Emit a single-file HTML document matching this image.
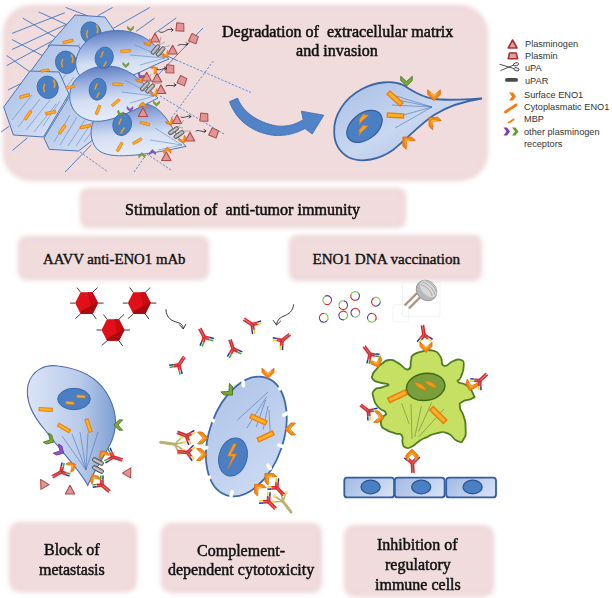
<!DOCTYPE html>
<html><head><meta charset="utf-8">
<style>
html,body{margin:0;padding:0;background:#fff;}
body{width:612px;height:598px;position:relative;overflow:hidden;}
.box{position:absolute;background:#f1dcdd;border-radius:18px;filter:blur(2.5px);box-shadow:inset 0 0 0 5px rgba(205,150,160,0.08);}
.t{position:absolute;font-family:"Liberation Serif",serif;color:#111;white-space:pre;font-size:16px;line-height:20px;-webkit-text-stroke:0.4px #111;}
.lg{position:absolute;font-family:"Liberation Sans",sans-serif;color:#333;font-size:9.2px;white-space:pre;line-height:11px;}
svg{position:absolute;left:0;top:0;}
.big{font-size:17.5px;transform:scaleX(0.919);transform-origin:0 0;-webkit-text-stroke:0.55px #111;}
.mid{font-size:16.5px;transform:scaleX(0.97);transform-origin:0 0;-webkit-text-stroke:0.5px #111;}
</style></head><body>
<div class="box" style="left:3px;top:5px;width:485px;height:176px;border-radius:28px"></div>
<div class="box" style="left:80px;top:188px;width:326px;height:40px;border-radius:8px"></div>
<div class="box" style="left:18px;top:236px;width:191px;height:44px;border-radius:8px"></div>
<div class="box" style="left:289px;top:235px;width:193px;height:46px;border-radius:8px"></div>
<div class="box" style="left:8.5px;top:522px;width:128px;height:70px;border-radius:10px"></div>
<div class="box" style="left:160.5px;top:522.5px;width:161.5px;height:70.5px;border-radius:10px"></div>
<div class="box" style="left:344px;top:525px;width:150px;height:72px;border-radius:10px"></div>
<svg width="612" height="598" viewBox="0 0 612 598"><defs>
<linearGradient id="gRound" x1="0.2" y1="0" x2="0.35" y2="1">
 <stop offset="0" stop-color="#5878bd"/><stop offset="0.3" stop-color="#98afdf"/><stop offset="0.62" stop-color="#d3def3"/><stop offset="1" stop-color="#e6edf9"/>
</linearGradient>
<linearGradient id="gHex" x1="0" y1="0" x2="1" y2="1">
 <stop offset="0" stop-color="#a9bfe6"/><stop offset="1" stop-color="#dbe5f6"/>
</linearGradient>
<linearGradient id="gCellL" x1="0" y1="0" x2="1" y2="0">
 <stop offset="0" stop-color="#dae4f5"/><stop offset="0.6" stop-color="#b9cbeb"/><stop offset="1" stop-color="#7f9fd2"/>
</linearGradient>
<linearGradient id="gMig" x1="0" y1="0" x2="1" y2="1">
 <stop offset="0" stop-color="#a7bee6"/><stop offset="0.5" stop-color="#c9d7f0"/><stop offset="1" stop-color="#a8bfe6"/>
</linearGradient>
<linearGradient id="gCdc" x1="0" y1="0" x2="1" y2="1">
 <stop offset="0" stop-color="#aec3e8"/><stop offset="1" stop-color="#cfdcf3"/>
</linearGradient>
<linearGradient id="gRow" x1="0" y1="0.3" x2="1" y2="0.7">
 <stop offset="0" stop-color="#a6bce5"/><stop offset="1" stop-color="#d5e0f4"/>
</linearGradient>
<g id="bar"><rect x="-6" y="-1.5" width="12" height="3" fill="#fbb424" stroke="#ef7c14" stroke-width="1"/></g>
<g id="sbar"><rect x="-4" y="-1.2" width="8" height="2.4" fill="#fbb424" stroke="#ef7c14" stroke-width="0.8"/></g>
<g id="chev"><path d="M-5.5,-6 L-1,-6 L5,0 L-1,6 L-5.5,6 L0,0 Z" fill="#f28a12" stroke="#e06a10" stroke-width="0.8" stroke-linejoin="round"/><path d="M-2.8,-3.2 L-1.6,-3.2 L1.6,0 L-1.6,3.2 L-2.8,3.2 L0,0Z" fill="#f9b83a"/></g>
<g id="chevG"><path d="M-5,-5.5 L-1,-5.5 L4.5,0 L-1,5.5 L-5,5.5 L0,0 Z" fill="#78a83a" stroke="#4a7422" stroke-width="0.8" stroke-linejoin="round"/></g>
<g id="chevP"><path d="M-5,-5.5 L-1,-5.5 L4.5,0 L-1,5.5 L-5,5.5 L0,0 Z" fill="#8e52c6" stroke="#6a30a0" stroke-width="0.8" stroke-linejoin="round"/></g>
<g id="tri"><path d="M0,-5 L5,4.3 L-5,4.3 Z" fill="#de9696" stroke="#b04848" stroke-width="1.1" stroke-linejoin="round"/></g>
<g id="pent"><path d="M-4,-4 L3,-4.5 L4.5,3 L-3.5,4 Z" fill="#de9696" stroke="#b04848" stroke-width="1" stroke-linejoin="round"/></g>
<g id="upar"><rect x="-2" y="-6" width="4" height="12" rx="2" fill="#9a9a9a" stroke="#4a4a4a" stroke-width="0.8"/><rect x="-0.8" y="-5" width="1.2" height="10" rx="0.6" fill="#d0d0d0"/></g>
<g id="ab" fill="none" stroke-linecap="butt">
 <path d="M-1.1,0 L-1.1,-10 M1.1,0 L1.1,-10" stroke="#e5262b" stroke-width="1.5"/>
 <path d="M0,-9 L0,0" stroke="#5a1010" stroke-width="0.5"/>
 <path d="M-0.74,-0.82 L-4.82,2.86" stroke="#e5262b" stroke-width="1.5"/>
 <path d="M-4.82,2.86 L-7.80,5.54" stroke="#2432a8" stroke-width="1.5"/>
 <path d="M0.74,0.82 L-3.35,4.50" stroke="#e5262b" stroke-width="1.5"/>
 <path d="M-3.35,4.50 L-6.32,7.17" stroke="#3aaa35" stroke-width="1.5"/>
 <path d="M0,0 L-3.72,3.35" stroke="#5a1010" stroke-width="0.5"/>
 <path d="M0.74,-0.82 L4.82,2.86" stroke="#e5262b" stroke-width="1.5"/>
 <path d="M4.82,2.86 L7.80,5.54" stroke="#2432a8" stroke-width="1.5"/>
 <path d="M-0.74,0.82 L3.35,4.50" stroke="#e5262b" stroke-width="1.5"/>
 <path d="M3.35,4.50 L6.32,7.17" stroke="#3aaa35" stroke-width="1.5"/>
 <path d="M0,0 L3.72,3.35" stroke="#5a1010" stroke-width="0.5"/>
</g>
<g id="aby" fill="none" stroke-linecap="butt">
 <path d="M-1.1,0 L-1.1,-10 M1.1,0 L1.1,-10" stroke="#e5262b" stroke-width="1.5"/>
 <path d="M0,-9 L0,0" stroke="#5a1010" stroke-width="0.5"/>
 <path d="M-0.74,-0.82 L-4.82,2.86" stroke="#e5262b" stroke-width="1.5"/>
 <path d="M-4.82,2.86 L-7.80,5.54" stroke="#2432a8" stroke-width="1.5"/>
 <path d="M0.74,0.82 L-3.35,4.50" stroke="#e5262b" stroke-width="1.5"/>
 <path d="M-3.35,4.50 L-6.32,7.17" stroke="#f2d21a" stroke-width="1.5"/>
 <path d="M0,0 L-3.72,3.35" stroke="#5a1010" stroke-width="0.5"/>
 <path d="M0.74,-0.82 L4.82,2.86" stroke="#e5262b" stroke-width="1.5"/>
 <path d="M4.82,2.86 L7.80,5.54" stroke="#2432a8" stroke-width="1.5"/>
 <path d="M-0.74,0.82 L3.35,4.50" stroke="#e5262b" stroke-width="1.5"/>
 <path d="M3.35,4.50 L6.32,7.17" stroke="#f2d21a" stroke-width="1.5"/>
 <path d="M0,0 L3.72,3.35" stroke="#5a1010" stroke-width="0.5"/>
</g>
<g id="virus">
 <path d="M-16.5,0 L-11.5,0 M11.5,0 L17,0 M-9.6,-15.5 L-6,-10.8 M10.9,-15.5 L6,-10.8 M-11.3,15.5 L-6,10.8 M9.7,16 L6,10.8" stroke="#3a3a3a" stroke-width="1"/>
 <path d="M-11.5,0 L-6,-10.8 L6,-10.8 L11.5,0 L6,10.8 L-6,10.8 Z" fill="#e0101a"/>
 <path d="M1,-10.8 L6,-10.8 L11.5,0 L4,3 Z" fill="#c80b12"/>
 <path d="M-5.5,8 L11.2,-0.8 L11.5,0 L6,10.8 L-6,10.8 Z" fill="#a80a0e"/>
</g>
<g id="c1q" fill="none" stroke-linecap="round">
 <path d="M0,0 L14,2" stroke="#b8b070" stroke-width="3"/>
 <path d="M14,2 L21,-5 M14,2 L24,0 M14,2 L18,11 M14,2 L23,8" stroke="#b8b070" stroke-width="1.6"/>
 <circle cx="21" cy="-5" r="1.8" fill="#f0e070" stroke="none"/><circle cx="24" cy="0" r="1.8" fill="#f0e070" stroke="none"/>
 <circle cx="18" cy="11" r="1.8" fill="#f0e070" stroke="none"/><circle cx="23" cy="8" r="1.8" fill="#f0e070" stroke="none"/>
</g>
</defs>

<g stroke="#4f81c6" stroke-width="1" fill="none">
<path d="M12,33.4 L64.9,12.7"/>
<path d="M12,49.5 L78,19"/>
<path d="M6.7,65.6 L57.5,38.1"/>
<path d="M8,90 L32,78"/>
<path d="M1.1,132 L9.2,126.3"/>
<path d="M12.6,150.3 L27.5,137.8"/>
<path d="M65.2,172 L91.5,144.6"/>
<path d="M22.7,18.1 L60,40"/>
<path d="M38.8,12 L72,27"/>
<path d="M65.6,7.4 L88,16"/>
<path d="M12,39.5 L45,57"/>
<path d="M6.7,55.5 L30,72"/>
<path d="M97.8,15.7 L112.5,7.5"/>
<path d="M109.6,30.4 L149.8,7.5"/>
<path d="M136.1,31.4 L154.7,18"/>
<path d="M154.7,33.3 L176.3,18"/>
<path d="M156,77 L203,28"/>

</g>
<!-- dashed lines -->
<g stroke="#4f81c6" stroke-width="0.9" stroke-dasharray="2.2,1.6" fill="none">
<path d="M176,60 L251,92.5"/>
<path d="M171.5,118 L214,60"/>
<path d="M160,96 L224,134"/>
<path d="M80,152 L108,172"/>
<path d="M134,172 L146,155"/>
<path d="M147,154 L171,170"/>
</g>
<!-- solid ray lines near top right -->
<g stroke="#4f81c6" stroke-width="1" fill="none">

<path d="M166,55.5 L176,60"/>
</g>
<!-- hexagons -->
<clipPath id="hcA"><path d="M75,15 L105,17 L122,42 L100,75 L62,72 L48,46 Z"/></clipPath>
<clipPath id="hcB"><path d="M50,45 L78.6,46 L92,70 L72,100 L42,100 L28,75 Z"/></clipPath>
<clipPath id="hcD"><path d="M44,138 L69,97 L100,98 L112,125 L78.6,151 L49.3,149.4 Z"/></clipPath>
<clipPath id="hcC"><path d="M3.7,107 L30,71 L59,72 L69,94 L43.5,137 L13.4,135 Z"/></clipPath>
<path d="M75,15 L105,17 L122,42 L100,75 L62,72 L48,46 Z" fill="url(#gHex)" stroke="#4a76b8" stroke-width="1"/>
<path d="M62,66 L80,44 M70,70 L90,47 M80,72 L100,50" clip-path="url(#hcA)" stroke="#5f86c4" stroke-width="0.6" fill="none"/>
<path d="M50,45 L78.6,46 L92,70 L72,100 L42,100 L28,75 Z" fill="url(#gHex)" stroke="#4a76b8" stroke-width="1"/>
<path d="M50,96 L66,74 M58,98 L74,77 M66,99 L82,80 M74,97 L88,80" clip-path="url(#hcB)" stroke="#5f86c4" stroke-width="0.6" fill="none"/>
<path d="M44,138 L69,97 L100,98 L112,125 L78.6,151 L49.3,149.4 Z" fill="url(#gHex)" stroke="#4a76b8" stroke-width="1"/>
<path d="M54,142 L70,115 M60,145 L77,117 M68,146 L85,120 M76,146 L92,122 M84,142 L98,124" clip-path="url(#hcD)" stroke="#5f86c4" stroke-width="0.6" fill="none"/>
<path d="M3.7,107 L30,71 L59,72 L69,94 L43.5,137 L13.4,135 Z" fill="url(#gHex)" stroke="#4a76b8" stroke-width="1"/>
<path d="M12,120 L32,95 M18,127 L40,99 M26,130 L50,100 M34,132 L56,104 M43,126 L60,101" clip-path="url(#hcC)" stroke="#5f86c4" stroke-width="0.6" fill="none"/>
<!-- hex nuclei -->
<g fill="#4a7fc3" stroke="#3a67a8" stroke-width="0.8">
<ellipse cx="91" cy="33" rx="10" ry="11.3" transform="rotate(-20 91 33)"/>
<ellipse cx="66" cy="62.3" rx="10.5" ry="11.3" transform="rotate(-20 66 62.3)"/>
<ellipse cx="47.7" cy="87.3" rx="10.5" ry="11.3" transform="rotate(-20 47.7 87.3)"/>
</g>
<!-- round cells -->
<g stroke="#4a74b2" stroke-width="1" fill="url(#gRound)">
<path d="M169,59 C158,50 150,35 125,31 C100,28 80,40 76,60 C74,75 85,85 105,83 C130,80 150,66 169,59 Z"/>
<path d="M186,146.4 C176,138 170,118 156,108 C140,98 115,102 100,112 C88,122 88,145 101,152 C115,160 150,154 186,146.4 Z"/>
<path d="M158,98 C148,90 140,75 120,68 C100,62 80,70 72,85 C66,100 72,115 88,120 C105,125 125,115 158,98 Z"/>
</g>
<!-- cytoskeleton rays -->
<g stroke="#5f86c4" stroke-width="0.6" fill="none">
<path d="M165,58 L135,45 M165,58 L130,55 M165,58 L140,65"/>
<path d="M154,96 L125,80 M154,96 L122,92 M154,96 L130,103"/>
<path d="M182,145 L155,128 M182,145 L150,140 M182,145 L158,150"/>
</g>
<g fill="#4a7fc3" stroke="#3a67a8" stroke-width="0.8">
<ellipse cx="104.2" cy="57.7" rx="9" ry="10.8" transform="rotate(15 104.2 57.7)"/>
<ellipse cx="97.7" cy="89.2" rx="8.5" ry="11" transform="rotate(10 97.7 89.2)"/>
<ellipse cx="122.2" cy="124.4" rx="9.3" ry="11.3" transform="rotate(15 122.2 124.4)"/>
</g>
<!-- bars -->
<use href="#bar" transform="translate(68,41.5) rotate(-15) scale(0.85)"/>
<use href="#bar" transform="translate(70.5,87) rotate(-12) scale(0.7)"/>
<use href="#bar" transform="translate(24.6,96) rotate(-15) scale(0.85)"/>
<use href="#bar" transform="translate(28,115.3) rotate(-55) scale(0.85)"/>
<use href="#bar" transform="translate(50.7,112.7) rotate(-12) scale(0.85)"/>
<use href="#bar" transform="translate(62.2,129.3) rotate(-55) scale(0.85)"/>
<use href="#bar" transform="translate(85.3,126.6) rotate(-12) scale(0.85)"/>
<use href="#bar" transform="translate(45,70.5) rotate(-10) scale(0.7)"/>
<use href="#bar" transform="translate(125.5,51) rotate(-3) scale(0.8)"/>
<use href="#bar" transform="translate(117.6,84.3) rotate(3) scale(0.8)"/>
<use href="#bar" transform="translate(115.7,102.7) rotate(-40) scale(0.8)"/>
<use href="#bar" transform="translate(98,109.8) rotate(-68) scale(0.8)"/>
<use href="#bar" transform="translate(145,123.5) rotate(15) scale(0.8)"/>
<use href="#bar" transform="translate(137.3,141.2) rotate(-30) scale(0.8)"/>
<use href="#bar" transform="translate(119.6,147) rotate(-60) scale(0.8)"/>
<!-- nucleus marks -->
<g stroke="#f39a1a" stroke-width="1.6" stroke-linecap="round">
<path d="M87.5,30.5 Q85.8,34 87.3,37.5 M96.5,25.5 Q98.8,29 97.3,32.8" fill="none"/>
<path d="M62.5,59.5 Q60.8,63 62.3,66.5 M71.5,55 Q73.8,58.5 72.3,62.3" fill="none"/>
<path d="M44.5,84.5 Q42.8,88 44.3,91.5 M53.5,80 Q55.8,83.5 54.3,87.3" fill="none"/>
<path d="M103,52 L101,57 M106,62 L104,66"/>
<path d="M97,84 L95,89 M99,93 L97,97"/>
<path d="M121,119 L119,124 M124,128 L121,133"/>
</g>
<!-- tip decorations -->
<use href="#tri" transform="translate(155,38) scale(0.95)"/>
<use href="#tri" transform="translate(172.6,50) scale(0.95)"/>
<use href="#tri" transform="translate(146.7,77) scale(0.95)"/>
<use href="#tri" transform="translate(157,78) scale(0.95)"/>
<use href="#tri" transform="translate(161,89.5) scale(0.95)"/>
<use href="#tri" transform="translate(143,112.5) scale(0.95)"/>
<use href="#tri" transform="translate(177,119.5) scale(0.95)"/>
<use href="#tri" transform="translate(190,137) scale(0.95)"/>
<use href="#tri" transform="translate(166.3,156.5) scale(0.95)"/>
<use href="#pent" transform="translate(180,27.5) rotate(10)"/>
<use href="#pent" transform="translate(193.5,39) rotate(30)"/>
<use href="#pent" transform="translate(170,69.3) rotate(10)"/>
<use href="#pent" transform="translate(182,81) rotate(30)"/>
<use href="#pent" transform="translate(204,117.6) rotate(10)"/>
<use href="#pent" transform="translate(213.7,133.3) rotate(30)"/>
<use href="#upar" transform="translate(155.5,49.5) rotate(40) scale(0.95)"/>
<use href="#upar" transform="translate(160.6,51.5) rotate(40) scale(0.95)"/>
<use href="#upar" transform="translate(144.8,86.2) rotate(43) scale(0.95)"/>
<use href="#upar" transform="translate(150.2,88.5) rotate(43) scale(0.95)"/>
<use href="#upar" transform="translate(173.5,130.7) rotate(56) scale(0.95)"/>
<use href="#upar" transform="translate(179,134.5) rotate(56) scale(0.95)"/>
<g stroke="#9a9a9a" stroke-width="0.8" fill="none">
<path d="M159,45 L161,37 M159,45 L165,42 M164,47 L170,45.5"/>
<path d="M148,82 L151,74 M148,82 L154,80 M154,84 L161,83"/>
<path d="M178,127 L184,120 M178,127 L183,128 M184,131 L191,131"/>
</g>
<use href="#chev" transform="translate(148.4,43.4) rotate(60) scale(0.62)"/>
<use href="#chev" transform="translate(166,55) rotate(60) scale(0.62)"/>
<use href="#chev" transform="translate(140,80) rotate(60) scale(0.62)"/>
<use href="#chev" transform="translate(155,69.3) rotate(-30) scale(0.62)"/>
<use href="#chev" transform="translate(155,93.6) rotate(60) scale(0.62)"/>
<use href="#chev" transform="translate(142.7,104.8) rotate(-90) scale(0.62)"/>
<use href="#chev" transform="translate(170.2,122.5) rotate(60) scale(0.62)"/>
<use href="#chev" transform="translate(183,140) rotate(60) scale(0.62)"/>
<use href="#chev" transform="translate(167.3,150) rotate(-90) scale(0.62)"/>
<use href="#chevG" transform="translate(130.5,29) rotate(90) scale(0.55)"/>
<use href="#chevG" transform="translate(125.8,65.2) rotate(90) scale(0.55)"/>
<use href="#chevG" transform="translate(156.5,103.8) rotate(90) scale(0.55)"/>
<use href="#chevG" transform="translate(120.2,113.6) rotate(110) scale(0.55)"/>
<use href="#chevG" transform="translate(141.8,155) rotate(-90) scale(0.55)"/>
<use href="#chevP" transform="translate(130,109.2) rotate(90) scale(0.55)"/>
<use href="#chevP" transform="translate(152.5,152) rotate(-90) scale(0.55)"/>
<use href="#chevP" transform="translate(140.5,76) rotate(120) scale(0.55)"/>
<g stroke="#222" stroke-width="0.8" fill="none" stroke-linecap="round">
<path d="M159,31.5 C162,34 165,31 168,29.5 C170,29 172,30 173,30 M171,28 L173,30 L171.5,31.5"/>
<path d="M178,45.5 C181,43 184,46 188,44 M186,42.5 L188,44 L186,45.5"/>
<path d="M157,69.5 C160,71 163,68 166,68.5 M164.5,67 L166.5,68.5 L164.5,70"/>
<path d="M166,86 C169,84 172,87 176,85 M174,83.5 L176,85 L174,86.5"/>
<path d="M181,117 C184,119 187,115 191,116.5 M189,115 L191,116.5 L189,118"/>
<path d="M196,131 C199,129 202,133 206,131 M204,129.5 L206,131 L204,132.5"/>
</g>
<!-- big arrow -->
<path d="M229.5,101.7 L237.6,98.1 C242,110 255,122 277,126 C288,127 296,124 303.2,119.7 L301.4,111.2 L323.8,115.2 L312.2,134 L305,128.6 C295,134 285,136 275,135.5 C252,133 236,120 229.5,101.7 Z" fill="#5083c8" stroke="#3f6cae" stroke-width="0.8"/>
<!-- migrating cell -->
<path d="M334.2,133 C333,115 345,98 362,89 C375,82 392,80 403,85 C412,90 418,96 434,99 C450,101 468,99 482,98.5 C465,101 448,106 434,115 C420,124 408,138 393,150 C380,159 362,164 348,157 C338,151 334.5,142 334.2,133 Z" fill="url(#gMig)" stroke="#3a66a6" stroke-width="1.8"/>
<g stroke="#4a74b4" stroke-width="0.6" fill="none">
<path d="M432,107 L396,96 M432,107 L392,105 M432,107 L393,118 M432,107 L395,128 M432,107 L398,100"/>
</g>
<ellipse cx="364.5" cy="126.4" rx="20" ry="13" transform="rotate(-38 364.5 126.4)" fill="#4a7fc3" stroke="#2f5c98" stroke-width="1.2"/>
<use href="#bar" transform="translate(395,98.5) rotate(42) scale(1.45)"/>
<use href="#bar" transform="translate(395.5,115.5) rotate(3) scale(1.35)"/>
<path d="M363,114.6 L368.4,115.3 L361,122 L359.6,124.7 L359.4,119.5 Z" fill="#f7a21b" stroke="#e8761c" stroke-width="0.8" stroke-linejoin="round"/>
<path d="M363,125.3 L368,126.2 L361,132.6 L359.4,135.4 L359.1,130.3 Z" fill="#f7a21b" stroke="#e8761c" stroke-width="0.8" stroke-linejoin="round"/>
<use href="#chev" transform="translate(434,95.5) rotate(90) scale(1.05)"/>
<use href="#chev" transform="translate(432.7,121.2) rotate(-137) scale(1.05)"/>
<use href="#chev" transform="translate(406.6,140.8) rotate(-134) scale(1.05)"/>
<use href="#chevG" transform="translate(406.5,81.5) rotate(90) scale(1.05)"/>
<!-- viruses -->
<use href="#virus" transform="translate(86.6,303.1)"/>
<use href="#virus" transform="translate(139.3,303.1)"/>
<use href="#virus" transform="translate(113,330)"/>
<!-- small curved arrows -->
<g stroke="#222" stroke-width="0.9" fill="none" stroke-linecap="round" stroke-linejoin="round">
<path d="M166,309.6 C166,318 172,321 178,322.5 C181,323.5 183,325 183.3,328.5"/>
<path d="M179.5,324.8 L183.3,329 L185.8,324.2"/>
<path d="M293.6,304.7 C293,311 289,314 284,316 C280,317.5 277,320 276.5,324.5"/>
<path d="M273.3,320.5 L276.5,325 L280.5,321.2"/>
</g>
<!-- antibodies free -->
<!-- block of metastasis cell -->
<path d="M87.8,485.4 C80,470 60,450 45,430 C32,415 25,400 28,385 C32,370 45,364 58,366 C75,368 95,375 106,392 C116,408 118,425 112,440 C106,455 95,468 87.8,485.4 Z" fill="url(#gCellL)" stroke="#4a70a8" stroke-width="1.1"/>
<g stroke="#4a74b4" stroke-width="0.6" fill="none">
<path d="M86,470 L62,436 M86,470 L72,434 M86,470 L80,432 M86,470 L88,433 M86,470 L98,432"/>
</g>
<ellipse cx="74" cy="399" rx="16.3" ry="10.7" fill="#4a7fc3" stroke="#3a67a8" stroke-width="1"/>
<use href="#bar" transform="translate(45.7,409.5) rotate(3) scale(1.1)"/>
<use href="#bar" transform="translate(64,428) rotate(30) scale(1.1)"/>
<use href="#bar" transform="translate(88.6,425.6) rotate(72) scale(1.1)"/>
<use href="#sbar" transform="translate(70,403) rotate(5)"/>
<use href="#sbar" transform="translate(81,396.5) rotate(5)"/>
<use href="#chevG" transform="translate(118,425) rotate(180) scale(0.95)"/>
<use href="#chevG" transform="translate(50,440) rotate(30) scale(0.95)"/>
<use href="#chevP" transform="translate(60,451) rotate(30) scale(0.95)"/>
<use href="#chev" transform="translate(103,454) rotate(-120) scale(0.8)"/>
<use href="#chev" transform="translate(72,466) rotate(-30) scale(0.8)"/>
<use href="#chev" transform="translate(94,478) rotate(-120) scale(0.8)"/>
<use href="#upar" transform="translate(98,461.5) rotate(-62) scale(1)"/>
<use href="#upar" transform="translate(98,469.5) rotate(-62) scale(1)"/>
<use href="#tri" transform="translate(43,483.5) rotate(-30) scale(0.95)"/>
<use href="#tri" transform="translate(70,490) scale(0.95)"/>
<use href="#tri" transform="translate(128.5,472) rotate(30) scale(0.95)"/>
<!-- CDC cell -->
<ellipse cx="246.3" cy="436.5" rx="37" ry="62" transform="rotate(19 246.3 436.5)" fill="url(#gCdc)" stroke="#3f6aa8" stroke-width="1.8"/>
<g fill="#fff">
<rect x="-3.8" y="-1.9" width="7.6" height="3.8" rx="1.9" transform="translate(243.3,383.7) rotate(-95)"/>
<rect x="-3.8" y="-1.9" width="7.6" height="3.8" rx="1.9" transform="translate(280.8,387.2) rotate(-56)"/>
<rect x="-3.8" y="-1.9" width="7.6" height="3.8" rx="1.9" transform="translate(285.5,414.2) rotate(-30)"/>
<rect x="-3.8" y="-1.9" width="7.6" height="3.8" rx="1.9" transform="translate(280.8,445.8) rotate(16)"/>
<rect x="-3.8" y="-1.9" width="7.6" height="3.8" rx="1.9" transform="translate(269.1,466.9) rotate(55)"/>
<rect x="-3.8" y="-1.9" width="7.6" height="3.8" rx="1.9" transform="translate(231.6,493.8) rotate(106)"/>
<rect x="-3.8" y="-1.9" width="7.6" height="3.8" rx="1.9" transform="translate(208.2,478.6) rotate(133)"/>
<rect x="-3.8" y="-1.9" width="7.6" height="3.8" rx="1.9" transform="translate(204.7,448.1) rotate(165)"/>
<rect x="-3.8" y="-1.9" width="7.6" height="3.8" rx="1.9" transform="translate(211.7,420) rotate(-156)"/>
</g>
<g stroke="#4a74b4" stroke-width="0.6" fill="none">
<path d="M237.5,420 L268,392 M246.8,428.2 L266.7,396.6 M256.2,427 L265.6,400 M263.2,429.4 L268,406 M270.3,433 L269,410"/>
</g>
<ellipse cx="233" cy="457" rx="14" ry="19.4" transform="rotate(15 233 457)" fill="#4a7fc3" stroke="#3a67a8" stroke-width="1"/>
<path d="M233.5,444 L227.5,456 L233,456 L228,468.5 L236.5,454 L231,454 L236.5,444 Z" fill="#f7a21b" stroke="#e8761c" stroke-width="0.8"/>
<use href="#bar" transform="translate(258.5,419.5) rotate(24) scale(1.4)"/>
<use href="#bar" transform="translate(265.6,436.4) rotate(-25) scale(1.4)"/>
<use href="#chev" transform="translate(268,373.5) rotate(90) scale(1)"/>
<use href="#chev" transform="translate(290,429) rotate(180) scale(1)"/>
<use href="#chev" transform="translate(203,438) scale(1)"/>
<use href="#chev" transform="translate(202,454.5) scale(1)"/>
<use href="#chev" transform="translate(268.5,477) rotate(-135) scale(1)"/>
<use href="#chev" transform="translate(258,488) rotate(-135) scale(1)"/>
<use href="#chevG" transform="translate(229,391.5) rotate(45) scale(1.1)"/>
<use href="#c1q" transform="translate(160.7,442.3)"/>
<use href="#c1q" transform="translate(291.1,512.1) rotate(-136) scale(0.95)"/>
<use href="#ab" transform="translate(204.4,337.3) rotate(-28) scale(1)"/>
<use href="#ab" transform="translate(233.1,349) rotate(-18) scale(1)"/>
<use href="#aby" transform="translate(252.2,324.6) rotate(-57) scale(1)"/>
<use href="#aby" transform="translate(282,340.5) rotate(52) scale(1)"/>
<use href="#ab" transform="translate(178.8,365) rotate(34) scale(1)"/>
<use href="#ab" transform="translate(61,472) rotate(-119) scale(1)"/>
<use href="#ab" transform="translate(113,457) rotate(107) scale(1)"/>
<use href="#ab" transform="translate(102,485) rotate(131) scale(1)"/>
<use href="#aby" transform="translate(186.4,435.8) rotate(-69) scale(1)"/>
<use href="#aby" transform="translate(187.4,452.5) rotate(-85) scale(1)"/>
<use href="#aby" transform="translate(276.8,487.7) rotate(136) scale(1)"/>
<use href="#aby" transform="translate(268.5,501.6) rotate(135) scale(1)"/>
<use href="#aby" transform="translate(424,335) rotate(-9) scale(1)"/>
<use href="#ab" transform="translate(370,354.4) rotate(-36) scale(1)"/>
<use href="#aby" transform="translate(479.7,380.7) rotate(47) scale(1)"/>
<use href="#aby" transform="translate(368.4,411) rotate(-52) scale(1)"/>
<use href="#aby" transform="translate(412.4,463) rotate(177) scale(1)"/>
<!-- plasmids -->
<g fill="none" stroke-width="1.1">
<path d="M331.6,300.1 A4.4,4.4 0 0 1 325.0,303.9" stroke="#d8282a"/>
<path d="M325.0,303.9 A4.4,4.4 0 0 1 325.0,296.3" stroke="#7cc04a"/>
<path d="M325.0,296.3 A4.4,4.4 0 0 1 331.6,300.1" stroke="#5a3a9a"/>
<path d="M346.6,308.0 A4.4,4.4 0 0 1 339.1,306.7" stroke="#d8282a"/>
<path d="M339.1,306.7 A4.4,4.4 0 0 1 344.0,300.9" stroke="#7cc04a"/>
<path d="M344.0,300.9 A4.4,4.4 0 0 1 346.6,308.0" stroke="#5a3a9a"/>
<path d="M355.9,300.3 A4.4,4.4 0 0 1 351.0,294.5" stroke="#d8282a"/>
<path d="M351.0,294.5 A4.4,4.4 0 0 1 358.5,293.2" stroke="#7cc04a"/>
<path d="M358.5,293.2 A4.4,4.4 0 0 1 355.9,300.3" stroke="#5a3a9a"/>
<path d="M373.7,305.5 A4.4,4.4 0 0 1 373.7,297.9" stroke="#d8282a"/>
<path d="M373.7,297.9 A4.4,4.4 0 0 1 380.3,301.7" stroke="#7cc04a"/>
<path d="M380.3,301.7 A4.4,4.4 0 0 1 373.7,305.5" stroke="#5a3a9a"/>
<path d="M319.6,319.3 A4.4,4.4 0 0 1 324.5,313.5" stroke="#d8282a"/>
<path d="M324.5,313.5 A4.4,4.4 0 0 1 327.1,320.6" stroke="#7cc04a"/>
<path d="M327.1,320.6 A4.4,4.4 0 0 1 319.6,319.3" stroke="#5a3a9a"/>
<path d="M339.1,314.0 A4.4,4.4 0 0 1 346.6,312.7" stroke="#d8282a"/>
<path d="M346.6,312.7 A4.4,4.4 0 0 1 344.0,319.8" stroke="#7cc04a"/>
<path d="M344.0,319.8 A4.4,4.4 0 0 1 339.1,314.0" stroke="#5a3a9a"/>
<path d="M353.1,308.9 A4.4,4.4 0 0 1 359.7,312.7" stroke="#d8282a"/>
<path d="M359.7,312.7 A4.4,4.4 0 0 1 353.1,316.5" stroke="#7cc04a"/>
<path d="M353.1,316.5 A4.4,4.4 0 0 1 353.1,308.9" stroke="#5a3a9a"/>
<path d="M372.6,313.5 A4.4,4.4 0 0 1 375.2,320.6" stroke="#d8282a"/>
<path d="M375.2,320.6 A4.4,4.4 0 0 1 367.7,319.3" stroke="#7cc04a"/>
<path d="M367.7,319.3 A4.4,4.4 0 0 1 372.6,313.5" stroke="#5a3a9a"/>
</g>
<!-- gene gun -->
<g>
<rect x="402.7" y="282" width="37.3" height="34.2" fill="none" stroke="#ececec" stroke-width="0.6"/>
<rect x="393" y="304.4" width="15.6" height="17.6" rx="2" fill="none" stroke="#ececec" stroke-width="0.6"/>
<path d="M404.7,305.4 L417,293.2" stroke="#b09a8a" stroke-width="2.4"/>
<path d="M409,308.4 L420.4,297" stroke="#b09a8a" stroke-width="2.4"/>
<path d="M404.7,305.4 L417,293.2 M409,308.4 L420.4,297" stroke="#8a6a5a" stroke-width="0.5" stroke-dasharray="1,1"/>
<g transform="translate(426.5,290.5) rotate(-45)">
<ellipse cx="0" cy="0" rx="9.5" ry="11" fill="#b8b8b8" stroke="#8a8a8a" stroke-width="0.8"/>
<ellipse cx="2.5" cy="0" rx="6.5" ry="10" fill="#d8d8d8"/>
<path d="M0,-8 C3,-4 3,4 0,8 M3,-9 C6,-4 6,4 3,9 M6,-8 C8.5,-4 8.5,4 6,8" stroke="#9a9a9a" stroke-width="0.7" fill="none"/>
</g>
</g>
<!-- green cell -->
<path d="M412.9,355.3 C416.4,352.5 414.8,353.1 421.4,351.6 C428.0,350.0 426.4,349.1 432.7,350.6 C438.9,352.2 436.4,351.3 440.2,356.3 C443.9,361.3 439.6,364.1 443.9,365.7 C448.3,367.2 447.7,362.9 453.3,361.0 C459.0,359.1 457.4,358.5 460.9,360.0 C464.3,361.6 463.7,360.0 463.7,365.7 C463.7,371.3 462.7,371.6 460.9,377.0 C459.0,382.3 456.2,378.8 458.0,381.7 C459.9,384.5 461.5,381.3 466.5,385.4 C471.5,389.5 471.2,389.5 473.1,393.9 C475.0,398.3 475.6,396.1 472.1,398.6 C468.7,401.1 466.8,398.6 462.7,401.4 C458.7,404.2 459.6,402.0 459.9,407.0 C460.2,412.0 461.8,409.5 463.7,416.4 C465.6,423.3 465.6,420.2 465.6,427.7 C465.6,435.2 466.5,434.6 463.7,439.0 C460.9,443.4 462.4,442.7 457.1,440.9 C451.8,439.0 454.6,435.9 447.7,433.3 C440.8,430.8 443.3,432.1 436.4,433.3 C429.5,434.6 432.7,434.6 427.0,437.1 C421.4,439.6 424.5,437.7 419.5,440.9 C414.5,444.0 416.7,444.3 412.0,446.5 C407.3,448.7 408.5,448.7 405.4,447.4 C402.3,446.2 403.8,446.8 402.6,442.7 C401.3,438.7 404.2,438.4 401.7,435.2 C399.1,432.1 400.4,435.2 395.1,433.3 C389.7,431.5 390.4,432.7 385.7,429.6 C381.0,426.5 381.9,428.0 381.0,423.9 C380.0,419.9 381.3,421.1 382.9,417.4 C384.4,413.6 387.2,416.1 385.7,412.7 C384.1,409.2 382.2,412.0 378.2,407.0 C374.1,402.0 374.7,403.3 373.5,397.6 C372.2,392.0 371.6,393.6 374.4,390.1 C377.2,386.7 377.2,389.2 381.9,387.3 C386.6,385.4 389.1,386.0 388.5,384.5 C387.9,382.9 385.1,384.2 380.0,382.6 C375.0,381.0 376.0,382.3 373.5,379.8 C371.0,377.3 371.6,378.5 372.5,375.1 C373.5,371.6 373.1,373.2 376.3,369.4 C379.4,365.7 377.5,366.9 381.9,363.8 C386.3,360.7 384.1,360.4 389.4,360.0 C394.8,359.7 391.6,359.7 397.9,362.9 C404.2,366.0 403.8,370.4 408.2,369.4 C412.6,368.5 409.5,364.7 411.1,360.0 C412.6,355.3 409.5,358.2 412.9,355.3 Z" fill="#c5e062" stroke="#4e7d22" stroke-width="1.8"/>
<g stroke="#5a6a3a" stroke-width="0.5" fill="none">
<path d="M401.7,403.3 L409.2,424 M411,404.2 L412,439 M421.4,406 L414.8,437 M431.7,402.3 L418.6,431.5 M444,409 L418.6,437"/>
</g>
<ellipse cx="425.7" cy="386.9" rx="19.3" ry="13.5" transform="rotate(-8 425.7 386.9)" fill="#7a9e3c" stroke="#3d6a1a" stroke-width="1.4"/>
<path d="M414.5,383 C419,382 424,385 426.5,390.5 C421,389 417,387 414.5,383 Z" fill="#f39a1a" stroke="#e07a10" stroke-width="0.8"/>
<path d="M425,381.5 C430,380.5 434,383 436.7,388 C431,387 427,385 425,381.5 Z" fill="#f39a1a" stroke="#e07a10" stroke-width="0.8"/>
<use href="#bar" transform="translate(397.5,396.2) rotate(-25) scale(1.6)"/>
<use href="#bar" transform="translate(438.3,415) rotate(45) scale(1.6)"/>
<use href="#chev" transform="translate(426,347.5) rotate(90) scale(1)"/>
<use href="#chev" transform="translate(377,362.8) rotate(66) scale(0.95)"/>
<use href="#chev" transform="translate(471,386) rotate(109) scale(0.95)"/>
<use href="#chev" transform="translate(379.4,417.2) rotate(6) scale(0.95)"/>
<use href="#chev" transform="translate(412,454) rotate(-90) scale(1)"/>
<!-- row of cells -->
<g stroke="#2f5f9f" stroke-width="1.8" fill="url(#gRow)">
<rect x="344.3" y="477.6" width="49.8" height="19.8" rx="3"/>
<rect x="394.8" y="477.6" width="49.8" height="19.8" rx="3"/>
<rect x="446.2" y="477.6" width="49.8" height="19.8" rx="3"/>
</g>
<g fill="#4a7fc3" stroke="#2a5590" stroke-width="1.2">
<ellipse cx="370.6" cy="487" rx="9.6" ry="6.8"/>
<ellipse cx="421.2" cy="487" rx="9.6" ry="6.8"/>
<ellipse cx="472.6" cy="487" rx="9.6" ry="6.8"/>
</g>
<path d="M512.6,40 L517,48 L508.2,48 Z" fill="#e2a0a0" stroke="#a83232" stroke-width="1.6" stroke-linejoin="round"/>
<path d="M509.5,53 L516.2,53 L517.6,58.8 L508.2,58.8 Z" fill="#e2a0a0" stroke="#a83232" stroke-width="1.6" stroke-linejoin="round"/>
<g stroke="#222" stroke-width="0.8" fill="none">
<path d="M499.5,64.2 L513.8,68.6 M500.5,70.6 L513.8,65"/>
<ellipse cx="516" cy="64.3" rx="2.6" ry="1.5" transform="rotate(-15 516 64.3)"/><ellipse cx="516.5" cy="69.3" rx="2.6" ry="1.5" transform="rotate(15 516.5 69.3)"/>
</g>
<rect x="505" y="78" width="13" height="3.8" rx="1.9" fill="#4a4a4a"/>
<path d="M509,92.5 L513,92.5 L516,96.5 L513,100.5 L509,100.5 L512,96.5 Z" fill="#f07e14"/>
<path d="M505.5,112 L516,105" stroke="#f07e14" stroke-width="2.8" stroke-linecap="round"/>
<path d="M509,122.5 L513.5,119.5" stroke="#f07e14" stroke-width="2" stroke-linecap="round"/>
<path d="M503.5,127.5 L507,127.5 L510,131.5 L507,135.5 L503.5,135.5 L506.5,131.5 Z" fill="#7a3fb0"/>
<path d="M512,127.5 L515.5,127.5 L518.5,131.5 L515.5,135.5 L512,135.5 L515,131.5 Z" fill="#6a9a32"/>
</svg><div class="t big" style="left:222px;top:21px;">Degradation of  extracellular matrix</div>
<div class="t big" style="left:296px;top:40px;">and invasion</div>
<div class="t big" style="left:125px;top:198.5px;">Stimulation of  anti-tumor immunity</div>
<div class="t" style="left:43px;top:249px;font-size:14.8px">AAVV anti-ENO1 mAb</div>
<div class="t" style="left:312.5px;top:249px;font-size:15.1px">ENO1 DNA vaccination</div>
<div class="t mid" style="left:44px;top:540px;">Block of</div>
<div class="t mid" style="left:39px;top:560px;">metastasis</div>
<div class="t mid" style="left:197px;top:540.5px;">Complement-</div>
<div class="t mid" style="left:168px;top:560px;">dependent cytotoxicity</div>
<div class="t mid" style="left:377px;top:534.5px;">Inhibition of</div>
<div class="t mid" style="left:385px;top:554.5px;">regulatory</div>
<div class="t mid" style="left:375px;top:574.5px;">immune cells</div>
<div class="lg" style="left:525px;top:39px">Plasminogen</div>
<div class="lg" style="left:525px;top:51px">Plasmin</div>
<div class="lg" style="left:525px;top:62.5px">uPA</div>
<div class="lg" style="left:525px;top:75.5px">uPAR</div>
<div class="lg" style="left:524px;top:90px">Surface ENO1</div>
<div class="lg" style="left:524px;top:102px">Cytoplasmatic ENO1</div>
<div class="lg" style="left:524px;top:114px">MBP</div>
<div class="lg" style="left:524px;top:126.5px">other plasminogen</div>
<div class="lg" style="left:524px;top:138.5px">receptors</div>
</body></html>
